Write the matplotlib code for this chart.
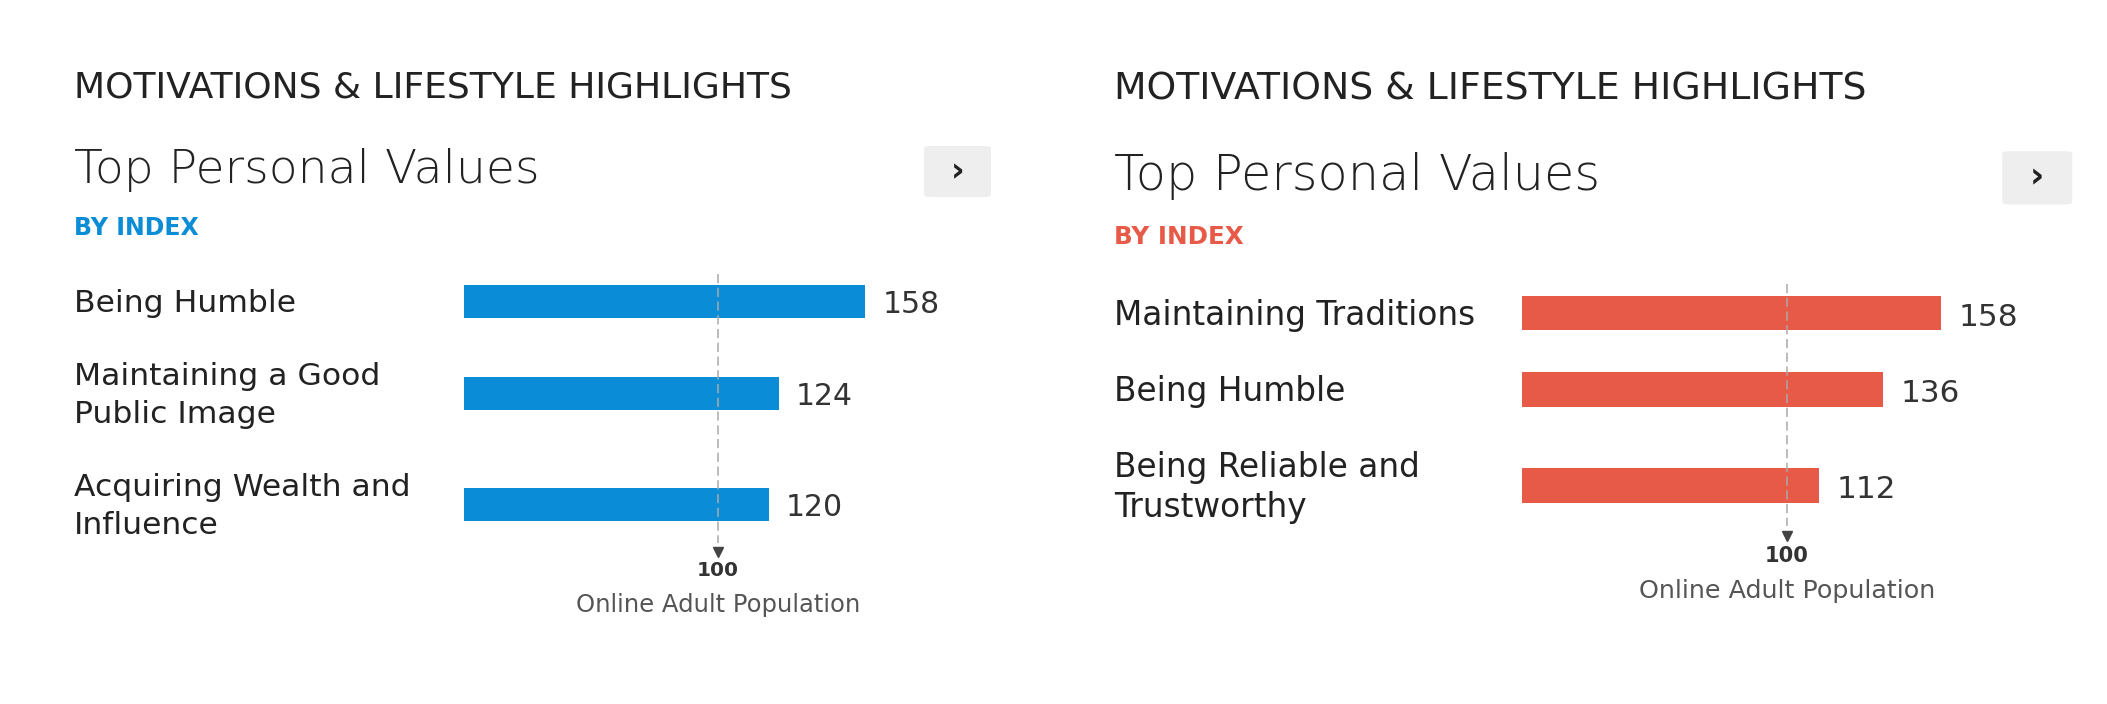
import matplotlib.pyplot as plt
from matplotlib.patches import FancyBboxPatch

W, H = 2107, 704

header = "MOTIVATIONS & LIFESTYLE HIGHLIGHTS"
title = "Top Personal Values"
subtitle = "BY INDEX"
ref_value = 100
ref_label = "Online Adult Population"

left_labels = ["Being Humble", "Maintaining a Good\nPublic Image", "Acquiring Wealth and\nInfluence"]
left_values = [158, 124, 120]
right_labels = ["Maintaining Traditions", "Being Humble", "Being Reliable and\nTrustworthy"]
right_values = [158, 136, 112]

BLUE = "#0a8dd6"
RED = "#e85a48"
DARK = "#222222"

plt.rcParams['font.family'] = ['DejaVu Sans']


# ##################################################################
# one "card": header, title, button, bars with 100 marker
# positions are pixels relative to the header baseline, times s
# ##################################################################
def draw_panel(fig, ox, oy, s, labels, values, color):
    def fx(x):
        return (ox + x * s) / W

    def fy(y):
        return 1 - (oy + y * s) / H

    fig.text(fx(0), fy(0), header, fontsize=26 * s, color=DARK, va='baseline')
    fig.text(fx(0), fy(86), title, fontsize=34 * s, fontweight='light', color=DARK, va='baseline')
    fig.text(fx(0), fy(138), subtitle, fontsize=17 * s, fontweight='bold', color=color, va='baseline')

    # little grey button with a chevron
    bx0, bx1, by0, by1 = 850, 917, 49, 100
    btn = FancyBboxPatch((fx(bx0), fy(by1)), (bx1 - bx0) * s / W, (by1 - by0) * s / H,
                         boxstyle="round,pad=0,rounding_size=0.003", transform=fig.transFigure,
                         facecolor='#eeeeee', edgecolor='none')
    fig.add_artist(btn)
    fig.text(fx((bx0 + bx1) / 2), fy((by0 + by1) / 2), '›', ha='center', va='center',
             fontsize=24 * s, fontweight='bold', color=DARK)

    # row centres depend on how many lines each label has
    line_h = 38
    nlines = [len(l.split('\n')) for l in labels]
    centers = [204]
    for a, b in zip(nlines[:-1], nlines[1:]):
        centers.append(centers[-1] + 73 + (a - 1 + b - 1) * line_h / 2)

    # bar axes: 1 x-unit = 2.54*s px, 1 y-unit = s px
    ax = fig.add_axes([fx(390), fy(560), 508 * s / W, 410 * s / H])
    ax.set_xlim(0, 200)
    ax.set_ylim(560, 150)
    ax.axis('off')

    ax.barh(centers, values, height=33, color=color)
    for lab, c, v in zip(labels, centers, values):
        lines = lab.split('\n')
        for i, line in enumerate(lines):
            yy = c + (i - (len(lines) - 1) / 2) * line_h + 11
            fig.text(fx(0), fy(yy), line, fontsize=22.6 * s, color=DARK, va='baseline')
        ax.text(v + 17 / 2.54, c + 12, str(v), fontsize=21.5 * s, color='#333333', va='baseline')

    ax.vlines(ref_value, centers[0] - 27.5, centers[-1] + 39, colors='#aaaaaa',
              linestyles=(0, (6, 3)), linewidth=1.1)
    ax.plot(ref_value, centers[-1] + 48, marker='v', color='#444444', markersize=7 * s)
    ax.text(ref_value, centers[-1] + 67, str(ref_value), ha='center', va='center',
            fontsize=14.5 * s, fontweight='bold', color='#333333')
    ax.text(ref_value, centers[-1] + 101, ref_label, ha='center', va='center',
            fontsize=17.5 * s, color='#555555')


fig = plt.figure(figsize=(W / 100, H / 100), dpi=100)
fig.patch.set_facecolor('white')

draw_panel(fig, 74, 97, 1.0, left_labels, left_values, BLUE)
draw_panel(fig, 1114, 100, 1.045, right_labels, right_values, RED)

fig.savefig('out.png', dpi=100, facecolor='white')
